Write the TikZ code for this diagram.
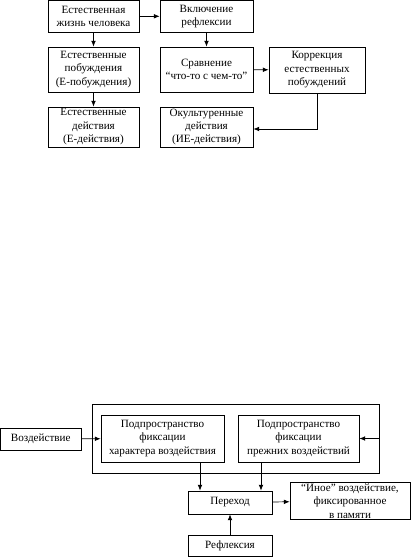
\documentclass[tikz,border=0pt]{standalone}
\usepackage{fontspec}
\setmainfont{Liberation Serif}
\usetikzlibrary{arrows.meta}
\begin{document}
\begin{tikzpicture}[x = 0.03cm, y = -0.03cm, >={Latex[length=5pt,width=4pt]},
        every path/.append style = {line width = 0.6pt},
        box/.style = {draw, align = center, inner sep = 1pt, font = \fontsize{9.5}{11.5}\selectfont}]
            \useasboundingbox (0,0) rectangle (412,558);
            % upper scheme
            \node[box, minimum width = 2.73cm, minimum height = 0.96cm] (life) at (93.5,16.3) {Естественная\\жизнь человека};
            \node[box, minimum width = 2.79cm, minimum height = 0.96cm] (refl) at (206.5,16.3) {Включение\\рефлексии};
            \node[box, minimum width = 2.73cm, minimum height = 1.35cm] (urge) at (93.5,69.5) {Естественные\\побуждения\\(Е-побуждения)};
            \node[box, minimum width = 2.79cm, minimum height = 1.35cm] (comp) at (206.5,69.5) {Сравнение\\“что-то с чем-то”};
            \node[box, minimum width = 2.88cm, minimum height = 1.38cm] (corr) at (317,70) {Коррекция\\естественных\\побуждений};
            \node[box, minimum width = 2.73cm, minimum height = 1.2cm] (act) at (93.5,127) {Естественные\\действия\\(Е-действия)};
            \node[box, minimum width = 2.79cm, minimum height = 1.2cm] (cult) at (206.5,127) {Окультуренные\\действия\\(ИЕ-действия)};
            \draw[->] (life) -- (refl);
            \draw[->] (life) -- (urge);
            \draw[->] (urge) -- (act);
            \draw[->] (refl) -- (comp);
            \draw[->] (comp) -- (corr);
            \draw[->] (corr.south) |- ([yshift = -0.06cm]cult.east);
            % lower scheme
            \node[draw, minimum width = 8.61cm, minimum height = 2.07cm] (space) at (235.5,438.5) {};
            \node[box, minimum width = 2.43cm, minimum height = 0.66cm] (impact) at (40.7,439) {Воздействие};
            \node[box, minimum width = 3.69cm, minimum height = 1.41cm] (kind) at (162.5,438.5) {Подпространство\\фиксации\\характера воздействия};
            \node[box, minimum width = 3.63cm, minimum height = 1.41cm] (past) at (298.5,438.5) {Подпространство\\фиксации\\прежних воздействий};
            \node[box, minimum width = 2.52cm, minimum height = 0.69cm] (trans) at (230,502.5) {Переход};
            \node[box, minimum width = 3.6cm, minimum height = 1.08cm] (other) at (350,501) {“Иное” воздействие,\\фиксированное\\в памяти};
            \node[box, minimum width = 2.52cm, minimum height = 0.63cm] (self) at (230,545.5) {Рефлексия};
            \draw[->] (impact) -- (kind);
            \draw[->] (space.east) -- (past.east);
            \draw[->] ([xshift = 1.125cm]kind.south) -- ([xshift = 1.125cm]kind.south |- trans.north);
            \draw[->] ([xshift = -1.125cm]past.south) -- ([xshift = -1.125cm]past.south |- trans.north);
            \draw[->] (trans) -- (other);
            \draw[->] (self) -- (trans);
        \end{tikzpicture}
\end{document}
